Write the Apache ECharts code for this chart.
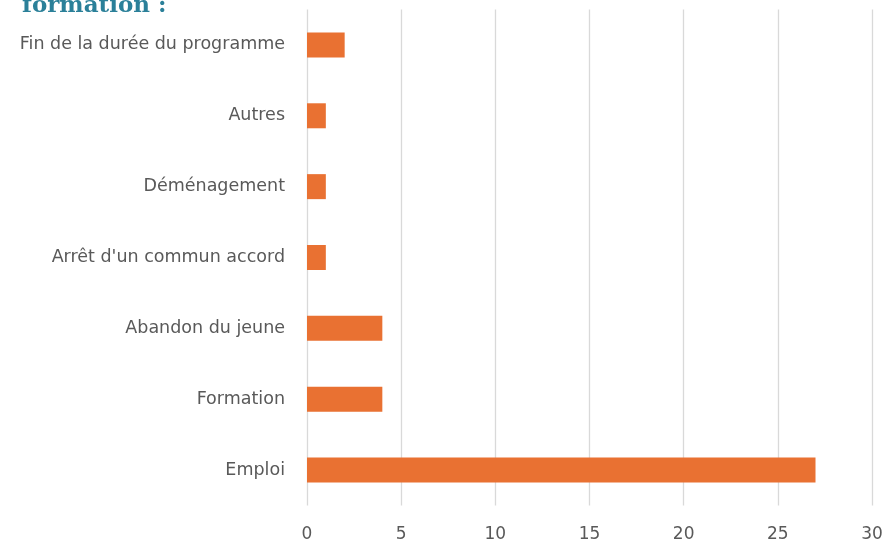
<!DOCTYPE html>
<html>
<head>
<meta charset="utf-8">
<script src="https://cdn.jsdelivr.net/npm/echarts@6/dist/echarts.min.js"></script>
<style>
html, body { margin: 0; padding: 0; background: #fff; }
#main { width: 885px; height: 543px; }
</style>
</head>
<body>
<div id="main"></div>
<script>
// categories bottom -> top (category axis starts at the bottom)
const categories = ['Emploi', 'Formation', 'Abandon du jeune', "Arrêt d'un commun accord", 'Déménagement', 'Autres', 'Fin de la durée du programme'];
const values = [27, 4, 4, 1, 1, 1, 2];
const xTicks = [0, 30, 5]; // min, max, interval

const labelFont = 'DejaVu Sans';

var myChart = echarts.init(document.getElementById('main'));
var option = {
    animation: false,
    title: {
        text: 'formation :',
        left: 17,
        top: -10,
        textStyle: {
            fontFamily: 'DejaVu Serif',
            fontWeight: 'bold',
            fontSize: 23,
            lineHeight: 23,
            color: '#2b8099'
        }
    },
    grid: {
        left: 307,
        right: 13,
        top: 9.5,
        bottom: 37.5,
        outerBoundsMode: 'none'
    },
    xAxis: {
        type: 'value',
        min: xTicks[0],
        max: xTicks[1],
        interval: xTicks[2],
        axisLine: { show: false },
        axisTick: { show: false },
        splitLine: { lineStyle: { color: '#d9d9d9', width: 1.3 } },
        axisLabel: {
            margin: 21,
            color: '#595959',
            fontFamily: labelFont,
            fontSize: 17
        }
    },
    yAxis: {
        type: 'category',
        data: categories,
        axisLine: { show: false },
        axisTick: { show: false },
        axisLabel: {
            margin: 22,
            color: '#595959',
            fontFamily: labelFont,
            fontSize: 17.5
        }
    },
    series: [
        {
            type: 'bar',
            data: values,
            barWidth: 25,
            itemStyle: { color: '#e97132' }
        }
    ]
};
myChart.setOption(option);
</script>
</body>
</html>
